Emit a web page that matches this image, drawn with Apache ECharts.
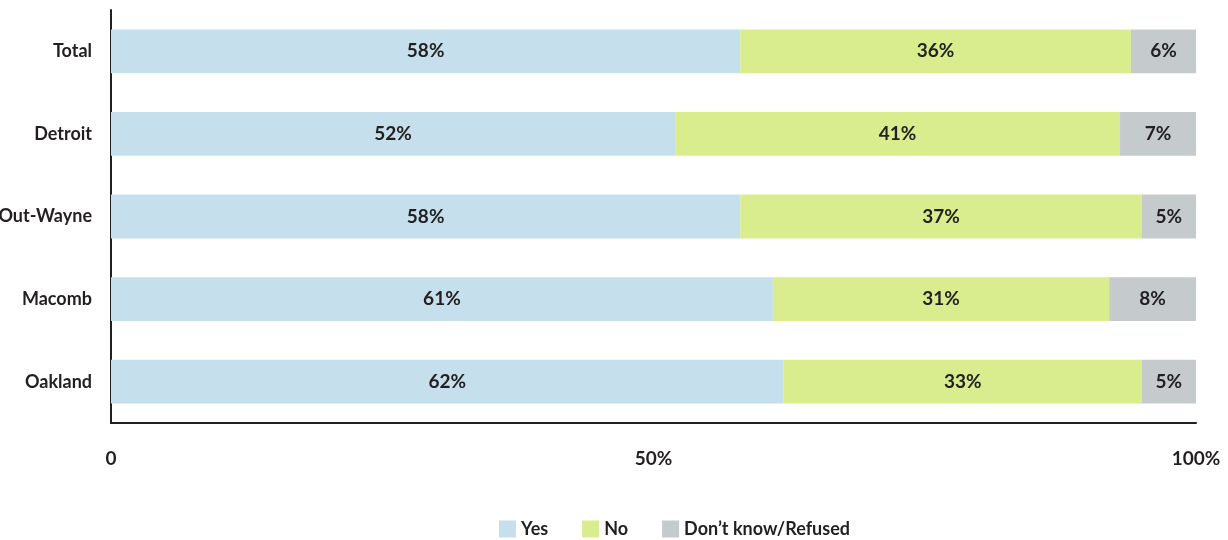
<!DOCTYPE html>
<html>
<head>
<meta charset="utf-8">
<script src="https://cdn.jsdelivr.net/npm/echarts@6/dist/echarts.min.js"></script>
<style>
  html, body { margin: 0; padding: 0; background: #fff; }
  #chart { width: 1228px; height: 540px; }
</style>
</head>
<body>
<div id="chart"></div>
<script>
// Regions, top to bottom
const categories = ['Total', 'Detroit', 'Out-Wayne', 'Macomb', 'Oakland'];
// Share of responses (%) per region
const yesValues = [58, 52, 58, 61, 62];
const noValues = [36, 41, 37, 31, 33];
const dkValues = [6, 7, 5, 8, 5];
const seriesNames = ['Yes', 'No', 'Don\u2019t know/Refused'];
const xTicks = [0, 50, 100];

const FONT = 'Lato, Roboto, "Liberation Sans", sans-serif';
const TEXT = '#231f20';
const colors = ['#c5e0ec', '#d9ed8e', '#c5cacd'];

const chart = echarts.init(document.getElementById('chart'));

function barSeries(name, data, color) {
  return {
    name: name,
    type: 'bar',
    stack: 'total',
    data: data,
    barWidth: '53%',
    itemStyle: { color: color },
    label: {
      show: true,
      position: 'inside',
      formatter: '{c}%',
      color: TEXT,
      fontFamily: FONT,
      fontWeight: 'bold',
      fontSize: 19
    },
    emphasis: { disabled: true }
  };
}

chart.setOption({
  animation: false,
  textStyle: { fontFamily: FONT, color: TEXT },
  grid: { left: 111, right: 32, top: 10, bottom: 117, containLabel: false, outerBoundsMode: 'none' },
  legend: {
    top: 515,
    left: 494,
    itemWidth: 17,
    itemHeight: 17,
    itemGap: 34,
    icon: 'rect',
    textStyle: { fontFamily: FONT, fontWeight: 'bold', fontSize: 18, color: TEXT },
    data: seriesNames
  },
  xAxis: {
    type: 'value',
    min: 0,
    max: 100,
    interval: 50,
    axisLine: { show: true, lineStyle: { color: '#231f20', width: 2 } },
    axisTick: { show: false },
    splitLine: { show: false },
    axisLabel: {
      margin: 26,
      fontFamily: FONT,
      fontWeight: 'bold',
      fontSize: 19,
      color: TEXT,
      formatter: function (v) { return xTicks.indexOf(v) >= 0 ? (v === 0 ? '0' : v + '%') : ''; }
    }
  },
  yAxis: {
    type: 'category',
    inverse: true,
    data: categories,
    axisLine: { show: true, lineStyle: { color: '#231f20', width: 2 } },
    axisTick: { show: false },
    axisLabel: { margin: 19, fontFamily: FONT, fontWeight: 'bold', fontSize: 18, color: TEXT }
  },
  series: [
    barSeries(seriesNames[0], yesValues, colors[0]),
    barSeries(seriesNames[1], noValues, colors[1]),
    barSeries(seriesNames[2], dkValues, colors[2])
  ]
});
</script>
</body>
</html>
